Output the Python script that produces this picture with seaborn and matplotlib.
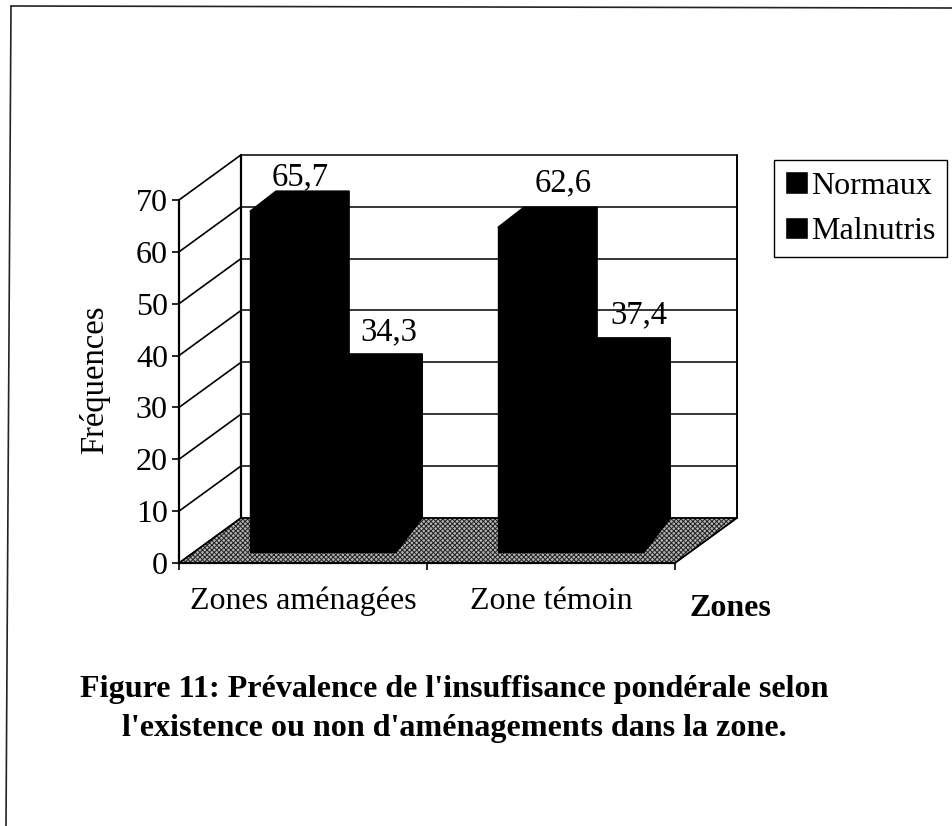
import pandas as pd
import matplotlib.pyplot as plt
from matplotlib.lines import Line2D
from matplotlib.patches import Polygon
import seaborn as sns

# --- DATA ---
ZONES = ["Zones aménagées", "Zone témoin"]
GROUPS = ["Normaux", "Malnutris"]
NORMAUX = [65.7, 62.6]
MALNUTRIS = [34.3, 37.4]
Y_TICKS = [0, 10, 20, 30, 40, 50, 60, 70]
CAPTION = ("Figure 11: Prévalence de l'insuffisance pondérale selon\n"
           "l'existence ou non d'aménagements dans la zone.")

# --- 3D LOOK (data units) ---
WALL_DX, WALL_DY = 0.25, 8.7     # depth of the chart box
BAR_X0, BAR_Y0 = 0.081, 2.12     # bars stand a little inside the floor
BAR_DX, BAR_DY = 0.105, 3.9      # depth of one bar
FOOT_DX, FOOT_Y = 0.0, 8.7       # where the bar side meets the floor
# label shifts, in the order of the bars: Normaux x2, Malnutris x2
LABEL_NUDGE_X = [-0.05, 0.012, 0.012, 0.02]
LABEL_NUDGE_Y = [-0.2, 1.7, 1.3, 1.5]

W, H = 952, 826


def fx(px):
    return px / W


def fy(px):
    return 1 - px / H


def draw_box(ax):
    x0, x1 = -0.5, 1.5
    y1 = Y_TICKS[-1]
    # floor
    ax.add_patch(Polygon([(x0, 0), (x0 + WALL_DX, WALL_DY), (x1 + WALL_DX, WALL_DY), (x1, 0)],
                         closed=True, facecolor="#b4b4b4", edgecolor="#222222", hatch="xxxxxxx",
                         linewidth=1.0, zorder=1, clip_on=False))
    # back wall and side wall lines
    for v in Y_TICKS:
        ax.plot([x0, x0 + WALL_DX], [v, v + WALL_DY], color="black", lw=1.2, zorder=1, clip_on=False)
        ax.plot([x0 + WALL_DX, x1 + WALL_DX], [v + WALL_DY, v + WALL_DY], color="black", lw=1.1,
                zorder=1, clip_on=False)
    ax.plot([x0 + WALL_DX, x0 + WALL_DX], [WALL_DY, y1 + WALL_DY], color="black", lw=1.6, zorder=1, clip_on=False)
    ax.plot([x1 + WALL_DX, x1 + WALL_DX], [WALL_DY, y1 + WALL_DY], color="black", lw=1.4, zorder=1, clip_on=False)
    ax.plot([x1, x1 + WALL_DX], [0, WALL_DY], color="black", lw=1.2, zorder=1, clip_on=False)


def draw_bars_3d(ax):
    bars = [p for c in ax.containers for p in c]
    values = NORMAUX + MALNUTRIS
    for p in bars:
        p.set_x(p.get_x() + BAR_X0)
        p.set_y(BAR_Y0)
        p.set_zorder(3)
        p.set_clip_on(False)
        p.set_edgecolor("black")
        p.set_linewidth(1)
        l, r = p.get_x(), p.get_x() + p.get_width()
        top = p.get_y() + p.get_height()
        ax.add_patch(Polygon([(l, top), (l + BAR_DX, top + BAR_DY), (r + BAR_DX, top + BAR_DY), (r, top)],
                             closed=True, color="black", zorder=3, clip_on=False))
        ax.add_patch(Polygon([(r, top), (r + BAR_DX, top + BAR_DY), (r + BAR_DX, FOOT_Y),
                              (r + FOOT_DX, BAR_Y0), (r, BAR_Y0)],
                             closed=True, color="black", zorder=3, clip_on=False))
    for p, v, nx, ny in zip(bars, values, LABEL_NUDGE_X, LABEL_NUDGE_Y):
        ax.text(p.get_x() + p.get_width() / 2 + BAR_DX + nx, p.get_y() + p.get_height() + BAR_DY + ny,
                f"{v}".replace(".", ","), ha="center", va="bottom", fontsize=23.5, color="black", zorder=5)


def main():
    sns.set_theme(style="white")
    plt.rcParams["font.family"] = ["Liberation Serif", "DejaVu Serif"]
    plt.rcParams["hatch.linewidth"] = 0.7

    df = pd.DataFrame({
        "zone": ZONES * 2,
        "groupe": [GROUPS[0]] * 2 + [GROUPS[1]] * 2,
        "value": NORMAUX + MALNUTRIS,
    })

    fig = plt.figure(figsize=(W / 100, H / 100), dpi=100)
    ax = fig.add_axes([fx(179), fy(563), fx(675) - fx(179), fy(200) - fy(563)])
    ax.patch.set_alpha(0)

    sns.barplot(data=df, x="zone", y="value", hue="groupe", order=ZONES, hue_order=GROUPS,
                palette={GROUPS[0]: "black", GROUPS[1]: "black"}, width=0.59, gap=0,
                saturation=1, errorbar=None, ax=ax)

    ax.set_xlim(-0.5, 1.5)
    ax.set_ylim(0, Y_TICKS[-1])
    ax.set_yticks(Y_TICKS)

    draw_box(ax)
    draw_bars_3d(ax)

    # Formatting
    ax.spines["top"].set_visible(False)
    ax.spines["right"].set_visible(False)
    ax.spines["left"].set_color("black")
    ax.spines["bottom"].set_color("black")
    ax.spines["left"].set_linewidth(1.6)
    ax.spines["bottom"].set_linewidth(1.6)
    ax.spines["left"].set_zorder(6)
    ax.spines["bottom"].set_zorder(6)

    ax.set_xticks([-0.5, 0.5, 1.5], minor=True)
    ax.tick_params(axis="x", which="major", length=0, pad=17, labelsize=23, labelcolor="black")
    ax.tick_params(axis="x", which="minor", length=5, width=1.2, color="black", bottom=True)
    ax.tick_params(axis="y", length=5, width=1.2, color="black", left=True, pad=3, labelsize=23,
                   labelcolor="black")

    ax.set_xlabel("")
    ax.set_ylabel("")
    fig.text(fx(95), fy(380), "Fréquences", rotation=90, ha="center", va="center", fontsize=23.5, color="black")
    fig.text(fx(730), fy(608), "Zones", ha="center", va="center", fontsize=23, fontweight="bold", color="black")
    fig.text(fx(454), fy(709), CAPTION, ha="center", va="center", fontsize=23.15, fontweight="bold",
             color="black", linespacing=1.48)

    handles, labels = ax.get_legend_handles_labels()
    ax.legend(handles[:2], labels[:2], loc="upper left", bbox_to_anchor=(fx(774), fy(160)),
              bbox_transform=fig.transFigure, frameon=True, fancybox=False, framealpha=1,
              edgecolor="black", fontsize=23, borderaxespad=0, handlelength=0.72, handleheight=0.72,
              handletextpad=0.1, borderpad=0.35, labelspacing=0.5, labelcolor="black")

    # page frame left by the scan
    fig.add_artist(Line2D([fx(11), 1], [fy(6), fy(8)], color="#222222", lw=1.2))
    fig.add_artist(Line2D([fx(11), fx(6)], [fy(6), fy(826)], color="#222222", lw=1.2))

    fig.savefig("out.png", dpi=100)
    plt.close(fig)


if __name__ == "__main__":
    main()
